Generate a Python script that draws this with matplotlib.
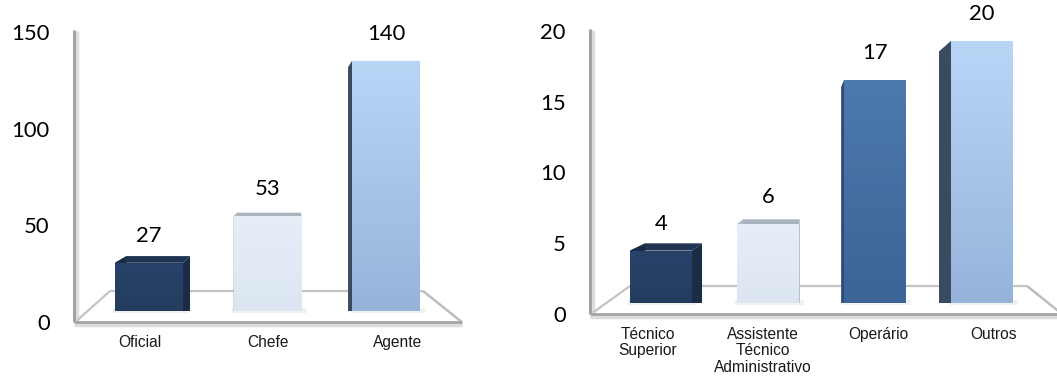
import numpy as np
import matplotlib
matplotlib.use("Agg")
import matplotlib.pyplot as plt
from matplotlib.patches import Polygon
from matplotlib.lines import Line2D
from matplotlib.transforms import IdentityTransform
from matplotlib.colors import LinearSegmentedColormap

W, H = 1057, 379
DPI = 100

# ---------------- data ----------------
left_categories = ["Oficial", "Chefe", "Agente"]
left_values = [27, 53, 140]
left_ticks = [0, 50, 100, 150]

right_categories = ["Técnico\nSuperior", "Assistente\nTécnico\nAdministrativo", "Operário", "Outros"]
right_values = [4, 6, 17, 20]
right_ticks = [0, 5, 10, 15, 20]

# ---------------- styles ----------------
# (front top colour, front bottom colour, side colour, top-face colour)
NAVY = ("#28426A", "#243D5E", "#1B2D46", "#1F3452")
LIGHT = ("#E6EEF8", "#DCE6F2", "#B4BDC9", "#A9B2BF")
SKY = ("#B9D5F6", "#96B4DA", "#3A4A5F", "#8FA9C9")
STEEL = ("#4D79AC", "#3C6496", "#2E4E78", "#35598A")

left_styles = [NAVY, LIGHT, SKY]
right_styles = [NAVY, LIGHT, STEEL, SKY]

NUM_FONT = "Lato"
CAT_FONT = "Liberation Sans"

fig = plt.figure(figsize=(W / DPI, H / DPI), dpi=DPI)
fig.patch.set_facecolor("white")


def disp(xs, ys):
    """screen pixel coords (y down) -> display coords (y up)"""
    return [(x, H - y) for x, y in zip(xs, ys)]


def panel(cats, vals, ticks, styles, box, lab0, lab_sp, base_px, ppu,
          c0, spacing, width, vp, f, back_y, back_x0, back_x1, xpad):
    x0p, ytp, x1p, ybp = box
    rect = [x0p / W, (H - ybp) / H, (x1p - x0p) / W, (ybp - ytp) / H]
    n = len(cats)

    # ---- axis carrying tick labels ----
    ax = fig.add_axes(rect)
    ax.set_facecolor("none")
    ax.set_ylim(ticks[0], ticks[-1])
    ax.set_xlim(-(lab0 - x0p) / lab_sp, (x1p - lab0) / lab_sp)
    ax.set_yticks(ticks)
    ax.set_yticklabels([str(t) for t in ticks], fontsize=15.8, family=NUM_FONT)
    ax.set_xticks(range(n))
    ax.set_xticklabels(cats, fontsize=11.2, family=CAT_FONT, color="#1a1a1a",
                       linespacing=1.1)
    ax.tick_params(axis="y", length=0, pad=17.5)
    ax.tick_params(axis="x", length=0, pad=xpad)
    for s in ax.spines.values():
        s.set_visible(False)

    # ---- axis carrying the bars ----
    ax2 = fig.add_axes(rect)
    ax2.set_facecolor("none")
    ax2.axis("off")
    xl = (-(c0 - x0p) / spacing, (x1p - c0) / spacing)
    ylo = -(ybp - base_px) / ppu
    yl = (ylo, ylo + (ybp - ytp) / ppu)
    ax2.set_xlim(*xl)
    ax2.set_ylim(*yl)

    def line(pts, color, lw, z=1):
        xs, ys = zip(*pts)
        ln = Line2D(xs, ys, color=color, lw=lw, transform=IdentityTransform(),
                    zorder=z, clip_on=False, solid_capstyle="butt")
        ax2.add_line(ln)

    # axis line with soft shadow
    line(disp([x0p + 2.5, x0p + 2.5], [ytp - 1, ybp]), "#DEDEDE", 2.5)
    line(disp([x0p, x0p], [ytp - 2, ybp]), "#A3A3A3", 2.2)
    # back edge of floor
    line(disp([back_x0, back_x1], [back_y, back_y]), "#C4C4C4", 1.6)
    # left diagonal
    line(disp([x0p + 3, back_x0], [ybp - 1.5, back_y]), "#C4C4C4", 1.6)
    # right diagonal
    slope = 0.8
    end_x = back_x1 + (ybp - back_y) / slope
    line(disp([back_x1, end_x], [back_y, ybp]), "#BDBDBD", 1.8)
    # front edge with shadow
    line(disp([x0p, min(end_x, W + 5)], [ybp + 2.5, ybp + 2.5]), "#DCDCDC", 2.5)
    line(disp([x0p, min(end_x, W + 5)], [ybp, ybp]), "#A3A3A3", 2.0)

    bars = ax2.bar(range(n), vals, width=width / spacing,
                   color=[s[1] for s in styles], zorder=3, linewidth=0)

    vxd, vyd = vp[0], H - vp[1]
    for i, (b, st) in enumerate(zip(bars, styles)):
        x0, x1 = b.get_x(), b.get_x() + b.get_width()
        (X0, Yb), (X1, Yt) = ax2.transData.transform([(x0, 0), (x1, vals[i])])
        X0b = X0 + (vxd - X0) * f
        X1b = X1 + (vxd - X1) * f
        Ytb = Yt + (vyd - Yt) * f
        # soft base shadow
        sh = Polygon([(X0 - 2, Yb - 2), (X1 + 5, Yb - 2), (X1 + 5, Yb + 3), (X0 - 2, Yb + 3)],
                     closed=True, transform=IdentityTransform(), facecolor="#E4E4E4",
                     edgecolor="none", alpha=0.5, zorder=2)
        ax2.add_patch(sh)
        faces = [
            ([(X0, Yt), (X1, Yt), (X1b, Ytb), (X0b, Ytb)], st[3]),
            ([(X0, Yb), (X0, Yt), (X0b, Ytb), (X0b, Yb)], st[2]),
            ([(X1, Yb), (X1, Yt), (X1b, Ytb), (X1b, Yb)], st[2]),
        ]
        for pts, col in faces:
            ax2.add_patch(Polygon(pts, closed=True, transform=IdentityTransform(),
                                  facecolor=col, edgecolor="none", zorder=2.5))
        cmap = LinearSegmentedColormap.from_list("g", [st[1], st[0]])
        grad = np.linspace(0, 1, 64).reshape(-1, 1)
        im = ax2.imshow(grad, extent=(x0, x1, 0, vals[i]), origin="lower",
                        cmap=cmap, aspect="auto", zorder=3.2, interpolation="bilinear")
        im.set_clip_path(b)
        ax2.annotate(str(vals[i]), xy=(i, vals[i]), xytext=(0, 27),
                     textcoords="offset pixels", ha="center", va="center",
                     fontsize=15.8, family=NUM_FONT, color="black", zorder=5)
    ax2.set_xlim(*xl)
    ax2.set_ylim(*yl)


panel(left_categories, left_values, left_ticks, left_styles,
      box=(74, 32, 462, 322), lab0=139.5, lab_sp=129,
      base_px=311, ppu=1.786, c0=149, spacing=118.5, width=68,
      vp=(291, 160), f=0.065, back_y=291, back_x0=110, back_x1=423, xpad=9.5)

panel(right_categories, right_values, right_ticks, right_styles,
      box=(590, 31, 1057, 314), lab0=647.5, lab_sp=115.2,
      base_px=303, ppu=13.1, c0=661, spacing=107, width=62,
      vp=(810, 165), f=0.085, back_y=286, back_x0=630, back_x1=1027, xpad=9.5)

fig.savefig("out.png", dpi=DPI, facecolor="white")
